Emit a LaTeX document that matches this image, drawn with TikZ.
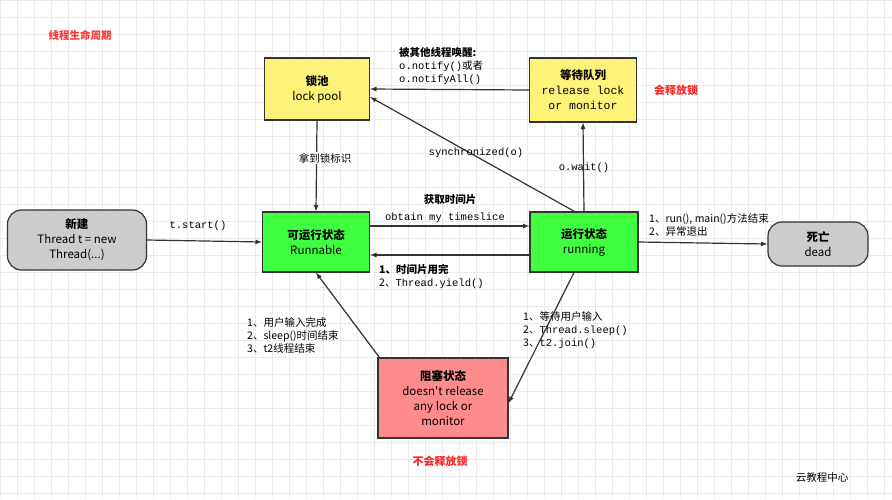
\documentclass[tikz,border=0pt]{standalone}
\usepackage{fontspec}
\setmainfont{Noto Sans CJK SC}
\setmonofont{Liberation Mono}
\usetikzlibrary{positioning}
\begin{document}
\begin{tikzpicture}[x=1pt,y=-1pt,>=latex,font=\fontsize{10.5}{13}\selectfont]
    \tikzset{box/.style={draw=black!80,line width=1.2pt,rectangle,align=center,inner sep=2pt,font=\fontsize{11.5}{15}\selectfont},
      pool/.style={box,fill=yellow!50!white!95!orange},
      live/.style={box,fill=green!75!white},
      dead/.style={box,fill=black!20,rounded corners=14pt},
      block/.style={box,fill=red!45!white},
      arr/.style={->,line width=1.2pt,draw=black!80},
      lbl/.style={align=left,inner sep=1pt}}
    \useasboundingbox (0,0) rectangle (892,499);
    \foreach \g in {0,17,...,892} \draw[black!8] (\g,0) -- (\g,499);
    \foreach \g in {0,17,...,499} \draw[black!8] (0,\g) -- (892,\g);
    \node[text=red!80,font=\fontsize{10.5}{13}\selectfont\bfseries] (title) at (80,35) {线程生命周期};
    \node[pool,minimum width=105,minimum height=62] (lock) at (317,89) {\textbf{锁池}\\lock pool};
    \node[pool,minimum width=107,minimum height=64] (wait) at (583,90) {\textbf{等待队列}\\{\ttfamily release lock}\\{\ttfamily or monitor}};
    \node[text=red!85,font=\fontsize{11}{13}\selectfont\bfseries] (rel) at (676,90) {会释放锁};
    \node[dead,minimum width=139,minimum height=60] (new) at (77,240) {\textbf{新建}\\Thread t = new\\Thread(...)};
    \node[live,minimum width=107,minimum height=60] (runnable) at (316,242) {\textbf{可运行状态}\\Runnable};
    \node[live,minimum width=108,minimum height=60] (running) at (584,242) {\textbf{运行状态}\\running};
    \node[dead,minimum width=100,minimum height=44] (end) at (818,244) {\textbf{死亡}\\dead};
    \node[block,minimum width=130,minimum height=80] (blocked) at (443,398) {\textbf{阻塞状态}\\doesn\textquotesingle t release\\any lock or\\monitor};
    \node[text=red!85,font=\fontsize{11}{13}\selectfont\bfseries] (norel) at (440,461) {不会释放锁};
    \node (brand) at (822,478) {云教程中心};
    % connectors
    \draw[arr] (wait.west) -- (lock.east);
    \node[lbl,anchor=south west] (notify) at (398,86) {\textbf{被其他线程唤醒:}\\{\ttfamily o.notify()}或者\\{\ttfamily o.notifyAll()}};
    \draw[arr] ([xshift=45]running.north west) -- ([yshift=-8]lock.east);
    \node[lbl] (sync) at (476,153) {\ttfamily synchronized(o)};
    \draw[arr] (running.north) -- (wait.south);
    \node[lbl] (ow) at (584,168) {\ttfamily o.wait()};
    \draw[arr] (lock.south) -- (runnable.north);
    \node[lbl,fill=white] (grab) at (325,158) {拿到锁标识};
    \draw[arr] (new.east) -- (runnable.west);
    \node[lbl] (start) at (198,226) {\ttfamily t.start()};
    \draw[arr] ([yshift=16]runnable.east) -- ([yshift=16]running.west);
    \node[lbl] (slice) at (450,200) {\textbf{获取时间片}};
    \node[lbl] (obt) at (445,218) {\ttfamily obtain my timeslice};
    \draw[arr] ([yshift=-13]running.west) -- ([yshift=-13]runnable.east);
    \node[lbl,anchor=north west] (yield) at (378,263) {\textbf{1、时间片用完}\\2、{\ttfamily Thread.yield()}};
    \draw[arr] (running.east) -- (end.west);
    \node[lbl,anchor=south west] (fin) at (648,238) {1、run(), main()方法结束\\2、异常退出};
    \draw[arr] ([xshift=-10]running.south) -- ([yshift=-5]blocked.east);
    \node[lbl,anchor=north west] (waitin) at (522,310) {1、等待用户输入\\2、{\ttfamily Thread.sleep()}\\3、{\ttfamily t2.join()}};
    \draw[arr] ([xshift=2]blocked.north west) -- (runnable.south);
    \node[lbl,anchor=north west] (done) at (246,316) {1、用户输入完成\\2、sleep()时间结束\\3、t2线程结束};
\end{tikzpicture}
\end{document}
